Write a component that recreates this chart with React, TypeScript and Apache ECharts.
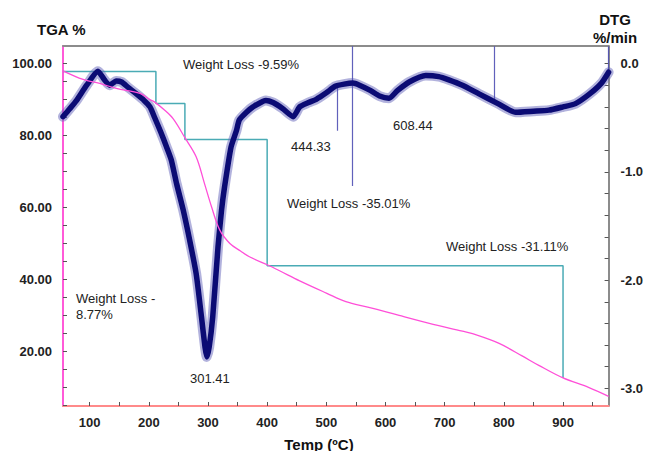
import React, { useEffect, useRef } from "react";
import * as echarts from "echarts";

// ---- Data ----
const tgaTemps = [55, 89, 117, 145, 185, 202, 210, 225, 241, 261, 280, 294, 306, 320, 337, 355, 370, 401, 421, 455, 500, 533, 570, 601, 623, 674, 730, 747, 792, 830, 859, 900, 943, 977];
const tgaValues = [98.0, 95.6, 94.5, 93.1, 91.7, 90.0, 89.3, 87.3, 84.7, 79.4, 74.1, 66.7, 60.2, 53.7, 50.0, 47.9, 46.3, 44.0, 42.4, 39.6, 36.2, 33.8, 32.3, 31.0, 30.0, 27.8, 25.6, 24.9, 22.2, 18.8, 16.1, 12.6, 10.0, 7.5];

const dtgTemps = [55, 66, 78, 95, 114, 125, 134, 145, 154, 165, 179, 192, 202, 210, 220, 230, 238, 247, 258, 269, 280, 289, 295, 298, 302, 308, 317, 323, 328, 339, 348, 353, 365, 376, 398, 410, 426, 444, 455, 470, 483, 500, 515, 530, 545, 556, 575, 590, 606, 620, 640, 668, 690, 707, 730, 758, 790, 820, 850, 876, 900, 921, 945, 965, 977];
const dtgValues = [-0.49, -0.42, -0.34, -0.2, -0.07, -0.15, -0.2, -0.16, -0.17, -0.22, -0.28, -0.34, -0.4, -0.5, -0.63, -0.77, -0.89, -1.11, -1.35, -1.63, -1.94, -2.34, -2.62, -2.71, -2.62, -2.34, -1.69, -1.35, -1.14, -0.77, -0.62, -0.52, -0.45, -0.4, -0.34, -0.36, -0.415, -0.49, -0.4, -0.36, -0.33, -0.27, -0.21, -0.19, -0.18, -0.2, -0.25, -0.3, -0.32, -0.25, -0.17, -0.11, -0.12, -0.15, -0.2, -0.28, -0.37, -0.45, -0.44, -0.43, -0.4, -0.37, -0.28, -0.18, -0.08];

// spikes: temperature, start and end on the DTG axis
const dtgSpikeTemps = [518, 543, 783, 976];
const dtgSpikeFrom = [-0.2, 0.16, 0.16, 0.16];
const dtgSpikeTo = [-0.62, -1.13, -0.35, -0.06];

// weight-loss step line
const stepTemps = [55, 212, 261, 400, 900];
const stepLevels = [97.8, 88.9, 78.9, 43.8, 12.6];

// axes
const tempLabels = [100, 200, 300, 400, 500, 600, 700, 800, 900];
const tempTickValues = [100, 150, 200, 250, 300, 350, 400, 450, 500, 550, 600, 650, 700, 750, 800, 850, 900, 950];
const tgaLabels = [20, 40, 60, 80, 100];
const tgaTickValues = [5, 10, 15, 20, 25, 30, 35, 40, 45, 50, 55, 60, 65, 70, 75, 80, 85, 90, 95, 100];
const dtgLabels = [0, -1, -2, -3];
const dtgTickValues = [0, -0.2, -0.4, -0.6, -0.8, -1.0, -1.2, -1.4, -1.6, -1.8, -2.0, -2.2, -2.4, -2.6, -2.8, -3.0];

const annotations = [
  { text: "Weight Loss -9.59%", x: 183, y: 64 },
  { text: "444.33", x: 291, y: 146 },
  { text: "608.44", x: 393, y: 125 },
  { text: "Weight Loss -35.01%", x: 287, y: 203 },
  { text: "Weight Loss -31.11%", x: 446, y: 246 },
  { text: "Weight Loss -", x: 76, y: 298 },
  { text: "8.77%", x: 76, y: 314 },
  { text: "301.41", x: 190, y: 378 },
];

const FONT = 'Arial, "Liberation Sans", sans-serif';

export default function App() {
  const ref = useRef<HTMLDivElement>(null);
  useEffect(() => {
    if (!ref.current) return;
    const chart = echarts.init(ref.current, undefined, { renderer: "svg" });
    const tga = tgaTemps.map((t, i) => [t, tgaValues[i]]);
    const dtg = dtgTemps.map((t, i) => [t, dtgValues[i]]);
    const steps = stepTemps.map((t, i) => [t, stepLevels[i]]);
    const spikes = dtgSpikeTemps.map((t, i) => ({ coords: [[t, dtgSpikeFrom[i]], [t, dtgSpikeTo[i]]] }));

    const tickStyle = { color: "#555", width: 1 };
    const labelStyle = { color: "#222", fontWeight: "bold" as const, fontSize: 13, fontFamily: FONT };

    chart.setOption({
      animation: false,
      backgroundColor: "#fff",
      grid: { left: 63, right: 36, top: 46, bottom: 45, containLabel: false },
      xAxis: [
        {
          type: "value", min: 55, max: 977, position: "bottom",
          axisLine: { onZero: false, lineStyle: { color: "#ff8a8a", width: 2 } },
          axisTick: { inside: true, length: 4, customValues: tempTickValues, lineStyle: tickStyle },
          axisLabel: { ...labelStyle, margin: 10, customValues: tempLabels },
          splitLine: { show: false },
        },
        {
          type: "value", min: 55, max: 977, position: "top",
          axisLine: { onZero: false, lineStyle: { color: "#8c8c8c", width: 2 } },
          axisTick: { show: false }, axisLabel: { show: false }, splitLine: { show: false },
        },
      ],
      yAxis: [
        {
          type: "value", min: 4.8, max: 104.9, position: "left",
          axisLine: { show: true, onZero: false, lineStyle: { color: "#ff5ad8", width: 2 } },
          axisTick: { show: true, inside: true, length: 4, customValues: tgaTickValues, lineStyle: tickStyle },
          axisLabel: { ...labelStyle, margin: 11, customValues: tgaLabels, formatter: (v: number) => v.toFixed(2) },
          splitLine: { show: false },
        },
        {
          type: "value", min: -3.163, max: 0.1625, position: "right",
          axisLine: { show: true, onZero: false, lineStyle: { color: "#666", width: 1.5 } },
          axisTick: { show: true, inside: true, length: 4, customValues: dtgTickValues, lineStyle: tickStyle },
          axisLabel: { ...labelStyle, margin: 12, customValues: dtgLabels, formatter: (v: number) => v.toFixed(1) },
          splitLine: { show: false },
        },
      ],
      series: [
        {
          type: "line", name: "steps", data: steps, step: "end", xAxisIndex: 0, yAxisIndex: 0,
          symbol: "none", lineStyle: { color: "#4aabb5", width: 1.5 }, z: 2,
        },
        {
          type: "line", name: "DTG halo", data: dtg, xAxisIndex: 0, yAxisIndex: 1, smooth: 0.2,
          symbol: "none", lineStyle: { color: "#6666bb", width: 10, opacity: 0.5, cap: "round", join: "round" }, z: 3,
        },
        {
          type: "line", name: "DTG body", data: dtg, xAxisIndex: 0, yAxisIndex: 1, smooth: 0.2,
          symbol: "none", lineStyle: { color: "#0b0b74", width: 5.5, cap: "round", join: "round" }, z: 4,
        },
        {
          type: "lines", coordinateSystem: "cartesian2d", xAxisIndex: 0, yAxisIndex: 1,
          data: spikes, lineStyle: { color: "#5050b4", width: 1.2, opacity: 0.9 }, z: 4,
        },
        {
          type: "line", name: "TGA", data: tga, xAxisIndex: 0, yAxisIndex: 0, smooth: 0.35,
          symbol: "none", lineStyle: { color: "#ff4fd8", width: 1.3 }, z: 5,
        },
      ],
      graphic: [
        { type: "text", x: 37, y: 29, style: { text: "TGA %", font: `bold 15px ${FONT}`, fill: "#111", verticalAlign: "middle" } },
        { type: "text", x: 615, y: 19, style: { text: "DTG", font: `bold 15px ${FONT}`, fill: "#111", align: "center", verticalAlign: "middle" } },
        { type: "text", x: 615, y: 37, style: { text: "%/min", font: `bold 15px ${FONT}`, fill: "#111", align: "center", verticalAlign: "middle" } },
        { type: "text", x: 319, y: 444, style: { text: "Temp (ºC)", font: `bold 15px ${FONT}`, fill: "#111", align: "center", verticalAlign: "middle" } },
        ...annotations.map((a) => ({
          type: "text", x: a.x, y: a.y,
          style: { text: a.text, font: `13px ${FONT}`, fill: "#222", verticalAlign: "middle" },
        })),
      ],
    });
    return () => chart.dispose();
  }, []);
  return <div ref={ref} style={{ position: "fixed", left: 0, top: 0, width: 646, height: 451 }} />;
}
